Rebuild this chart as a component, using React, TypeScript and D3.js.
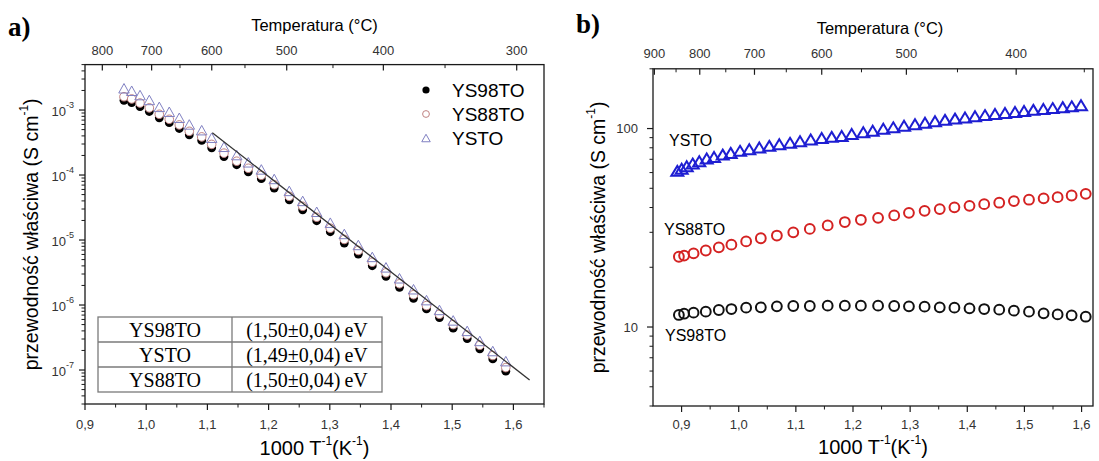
import React from "react";
import * as d3 from "d3";

// ---------- Panel a data (1000/T in K^-1, conductivity in S/cm) ----------
const invTA = [0.9637, 0.9763, 0.9899, 1.0051, 1.0214, 1.0377, 1.0541, 1.0704, 1.0907, 1.107, 1.1271, 1.1479, 1.1668, 1.1881, 1.2092, 1.2338, 1.2557, 1.2786, 1.3008, 1.3237, 1.3466, 1.3694, 1.3918, 1.4139, 1.4368, 1.458, 1.4792, 1.5016, 1.5245, 1.5451, 1.5663, 1.5876];
const ys98A = [1.41e-3, 1.30e-3, 1.13e-3, 9.5e-4, 7.6e-4, 6.4e-4, 5.2e-4, 4.15e-4, 3.41e-4, 2.62e-4, 1.92e-4, 1.44e-4, 1.12e-4, 8.8e-5, 6.3e-5, 4.16e-5, 2.92e-5, 1.98e-5, 1.34e-5, 8.97e-6, 6.08e-6, 4.02e-6, 2.76e-6, 1.87e-6, 1.27e-6, 8.7e-7, 6.4e-7, 4.4e-7, 3.05e-7, 2.12e-7, 1.48e-7, 9.6e-8];
const ys88A = [1.60e-3, 1.48e-3, 1.28e-3, 1.08e-3, 8.6e-4, 7.2e-4, 5.9e-4, 4.7e-4, 3.86e-4, 2.96e-4, 2.17e-4, 1.63e-4, 1.27e-4, 9.9e-5, 7.1e-5, 4.7e-5, 3.3e-5, 2.24e-5, 1.52e-5, 1.02e-5, 6.9e-6, 4.55e-6, 3.13e-6, 2.12e-6, 1.44e-6, 9.8e-7, 7.2e-7, 5.0e-7, 3.45e-7, 2.4e-7, 1.67e-7, 1.09e-7];
const ystoA = [2.16e-3, 1.98e-3, 1.70e-3, 1.43e-3, 1.12e-3, 9.4e-4, 7.6e-4, 6.0e-4, 4.9e-4, 3.75e-4, 2.72e-4, 2.03e-4, 1.57e-4, 1.22e-4, 8.7e-5, 5.7e-5, 4.0e-5, 2.72e-5, 1.85e-5, 1.24e-5, 8.4e-6, 5.5e-6, 3.8e-6, 2.58e-6, 1.75e-6, 1.19e-6, 8.4e-7, 5.8e-7, 4.0e-7, 2.8e-7, 1.96e-7, 1.37e-7];
const fitX = [1.108, 1.6265];
const fitY = [4.48e-4, 7.02e-8];
const legendA = ["YS98TO", "YS88TO", "YSTO"];
const tableSamples = ["YS98TO", "YSTO", "YS88TO"];
const tableEnergies = ["(1,50\u00b10,04)\u2009eV", "(1,49\u00b10,04)\u2009eV", "(1,50\u00b10,04)\u2009eV"];
const xTicksA = [0.9, 1.0, 1.1, 1.2, 1.3, 1.4, 1.5, 1.6];
const yTickExpA = [-7, -6, -5, -4, -3];
const topTempsA = [800, 700, 600, 500, 400, 300];
const topTempPosA = [0.9283, 1.0089, 1.1071, 1.2296, 1.3875, 1.6054];
const topMinorPosA = [0.968, 1.0552, 1.1614, 1.3052, 1.4883];

// ---------- Panel b data ----------
const invTB = [0.8953, 0.9044, 0.921, 0.9424, 0.9652, 0.9872, 1.013, 1.0387, 1.0668, 1.0955, 1.1244, 1.1557, 1.1857, 1.2138, 1.2439, 1.2721, 1.2979, 1.3253, 1.3518, 1.3775, 1.4039, 1.4296, 1.4559, 1.4816, 1.508, 1.5336, 1.5581, 1.5826, 1.6073];
const ys98B = [11.5, 11.67, 11.81, 11.95, 12.18, 12.32, 12.52, 12.56, 12.71, 12.76, 12.76, 12.81, 12.81, 12.81, 12.81, 12.76, 12.71, 12.66, 12.56, 12.52, 12.42, 12.32, 12.23, 12.09, 11.95, 11.72, 11.58, 11.45, 11.27];
const ys88B = [22.6, 22.9, 23.5, 24.3, 25.2, 26.0, 27.0, 28.0, 28.9, 30.0, 31.2, 32.5, 33.8, 34.7, 35.5, 36.5, 37.6, 38.5, 39.3, 40.1, 40.8, 41.6, 42.3, 43.1, 43.8, 44.5, 45.1, 46.0, 46.9];
const invTBTri = [0.8925, 0.9002, 0.909, 0.9195, 0.931, 0.944, 0.9568, 0.972, 0.986, 1.0023, 1.0185, 1.036, 1.0535, 1.071, 1.0898, 1.1073, 1.126, 1.1452, 1.1627, 1.1802, 1.1977, 1.218, 1.2345, 1.253, 1.2705, 1.2893, 1.3085, 1.326, 1.3435, 1.361, 1.3785, 1.396, 1.4135, 1.431, 1.4485, 1.466, 1.4835, 1.4993, 1.5156, 1.5331, 1.5495, 1.567, 1.5828, 1.599];
const ystoB = [61.2, 62.8, 64.6, 66.6, 68.4, 70.6, 71.9, 73.9, 75.4, 77.2, 78.7, 80.2, 81.8, 83.4, 84.7, 86.3, 88.0, 89.7, 90.8, 91.8, 93.8, 95.8, 97.6, 99.7, 101.4, 103.3, 105.2, 106.9, 108.8, 110.6, 112.2, 113.7, 115.3, 116.9, 118.3, 119.9, 121.3, 122.7, 124.2, 125.6, 126.8, 128.2, 129.4, 131.1];
const seriesLabelsB = ["YSTO", "YS88TO", "YS98TO"];
const xTicksB = [0.9, 1.0, 1.1, 1.2, 1.3, 1.4, 1.5, 1.6];
const yTicksB = [10, 100];
const topTempsB = [900, 800, 700, 600, 500, 400];
const topMinorTempsB = [850, 750, 650, 550, 450, 350];

const SANS = "'Liberation Sans', Arial, sans-serif";
const SERIF = "'Liberation Serif', 'Times New Roman', serif";
const AX = "#1a1a1a";

const fmtComma = (v: number) => v.toFixed(1).replace(".", ",");
const tri = (cx: number, cy: number, w: number, h: number) =>
  `M${cx},${cy - h / 2}L${cx + w / 2},${cy + h / 2}L${cx - w / 2},${cy + h / 2}Z`;

function minorLog(lo: number, hi: number) {
  const out: number[] = [];
  for (let e = Math.floor(Math.log10(lo)); e <= Math.ceil(Math.log10(hi)); e++) {
    for (let m = 2; m <= 9; m++) {
      const v = m * Math.pow(10, e);
      if (v >= lo && v <= hi) out.push(v);
    }
  }
  return out;
}

function PanelA() {
  const x = d3.scaleLinear().domain([0.9, 1.65]).range([85, 544]);
  const y = d3.scaleLog().domain([3e-8, 5e-3]).range([404, 64.6]);
  const [x0, x1] = x.range();
  const [yb, yt] = y.range();
  const line = d3.line<number>().x((d, i) => x(fitX[i])).y((d) => y(d));
  const minorX = d3.range(0.95, 1.66, 0.1);
  const cx = (x0 + x1) / 2;
  return (
    <g>
      <text x={8} y={27} fontFamily={SERIF} fontWeight="bold" fontSize={27} dominantBaseline="central">a)</text>
      {/* frame */}
      <rect x={x0} y={yt} width={x1 - x0} height={yb - yt} fill="none" stroke={AX} strokeWidth={1.3} />
      {/* bottom axis */}
      {xTicksA.map((t) => (
        <g key={"bx" + t}>
          <line x1={x(t)} x2={x(t)} y1={yb} y2={yb + 6} stroke={AX} strokeWidth={1.2} />
          <text x={x(t)} y={424} fontSize={13} fontFamily={SANS} textAnchor="middle" dominantBaseline="central" fill="#333">{fmtComma(t)}</text>
        </g>
      ))}
      {minorX.map((t) => (
        <line key={"bm" + t} x1={x(t)} x2={x(t)} y1={yb} y2={yb + 3.5} stroke={AX} strokeWidth={1} />
      ))}
      <text x={cx} y={448} fontSize={20} fontFamily={SANS} textAnchor="middle" dominantBaseline="central">
        1000 T<tspan dy={-7} fontSize={12}>-1</tspan><tspan dy={7}>(K</tspan><tspan dy={-7} fontSize={12}>-1</tspan><tspan dy={7}>)</tspan>
      </text>
      {/* left axis */}
      {yTickExpA.map((e) => {
        const v = Math.pow(10, e);
        return (
          <g key={"ly" + e}>
            <line x1={x0} x2={x0 - 6} y1={y(v)} y2={y(v)} stroke={AX} strokeWidth={1.2} />
            <text x={74} y={y(v) + 1} fontSize={13} fontFamily={SANS} textAnchor="end" dominantBaseline="central" fill="#333">
              10<tspan dy={-6} fontSize={9}>{String(e)}</tspan>
            </text>
          </g>
        );
      })}
      {minorLog(3e-8, 5e-3).map((v, i) => (
        <line key={"lm" + i} x1={x0} x2={x0 - 3.5} y1={y(v)} y2={y(v)} stroke={AX} strokeWidth={1} />
      ))}
      <text transform={`translate(31,${(yt + yb) / 2}) rotate(-90)`} fontSize={19.5} fontFamily={SANS} textAnchor="middle" dominantBaseline="central">
        przewodność właściwa (S cm<tspan dy={-7} fontSize={12}>-1</tspan><tspan dy={7}>)</tspan>
      </text>
      {/* top axis */}
      {topTempsA.map((t, i) => (
        <g key={"tt" + t}>
          <line x1={x(topTempPosA[i])} x2={x(topTempPosA[i])} y1={yt} y2={yt + 6} stroke={AX} strokeWidth={1.2} />
          <text x={x(topTempPosA[i])} y={50} fontSize={13} fontFamily={SANS} textAnchor="middle" dominantBaseline="central" fill="#333">{t}</text>
        </g>
      ))}
      {topMinorPosA.map((p, i) => (
        <line key={"tm" + i} x1={x(p)} x2={x(p)} y1={yt} y2={yt + 3.5} stroke={AX} strokeWidth={1} />
      ))}
      <text x={cx} y={25} fontSize={16.5} fontFamily={SANS} textAnchor="middle" dominantBaseline="central">Temperatura (°C)</text>
      {/* data */}
      {invTA.map((t, i) => (
        <circle key={"b" + i} cx={x(t)} cy={y(ys98A[i])} r={4.4} fill="#000" />
      ))}
      {invTA.map((t, i) => (
        <circle key={"r" + i} cx={x(t)} cy={y(ys88A[i])} r={4.3} fill="#fff" stroke="#c08282" strokeWidth={1} />
      ))}
      {invTA.map((t, i) => (
        <path key={"t" + i} d={tri(x(t), y(ystoA[i]), 10.5, 9.5)} fill="none" stroke="#8080c2" strokeWidth={1} />
      ))}
      <path d={line(fitY) || ""} fill="none" stroke="#333" strokeWidth={1.3} />
      {/* legend */}
      {legendA.map((s, i) => {
        const ly = 90 + i * 24;
        return (
          <g key={"lg" + s}>
            {i === 0 && <circle cx={426} cy={ly} r={3.6} fill="#000" />}
            {i === 1 && <circle cx={426} cy={ly} r={3.4} fill="#fff" stroke="#c08282" strokeWidth={1} />}
            {i === 2 && <path d={tri(426, ly, 8.5, 7.5)} fill="none" stroke="#8080c2" strokeWidth={1} />}
            <text x={452} y={ly} fontSize={19} fontFamily={SANS} dominantBaseline="central">{s}</text>
          </g>
        );
      })}
      {/* table */}
      <g stroke="#7a7a7a" strokeWidth={1.3} fill="none">
        <rect x={98} y={317} width={284} height={75} />
        <line x1={98} x2={382} y1={342} y2={342} />
        <line x1={98} x2={382} y1={367} y2={367} />
        <line x1={232} x2={232} y1={317} y2={392} />
      </g>
      {tableSamples.map((s, i) => (
        <g key={"tb" + i}>
          <text x={165} y={329.5 + i * 25} fontSize={20} fontFamily={SERIF} textAnchor="middle" dominantBaseline="central">{s}</text>
          <text x={307} y={329.5 + i * 25} fontSize={20} fontFamily={SERIF} textAnchor="middle" dominantBaseline="central">{tableEnergies[i]}</text>
        </g>
      ))}
    </g>
  );
}

function PanelB() {
  const x = d3.scaleLinear().domain([0.85, 1.62]).range([653, 1093]);
  const y = d3.scaleLog().domain([4, 200]).range([406, 68.8]);
  const [x0, x1] = x.range();
  const [yb, yt] = y.range();
  const minorX = d3.range(0.95, 1.61, 0.1);
  const invT = (tc: number) => 1000 / (tc + 273.15);
  const cx = (x0 + x1) / 2;
  return (
    <g>
      <text x={576} y={24} fontFamily={SERIF} fontWeight="bold" fontSize={27} dominantBaseline="central">b)</text>
      <rect x={x0} y={yt} width={x1 - x0} height={yb - yt} fill="none" stroke={AX} strokeWidth={1.3} />
      {xTicksB.map((t) => (
        <g key={"bx" + t}>
          <line x1={x(t)} x2={x(t)} y1={yb} y2={yb + 6} stroke={AX} strokeWidth={1.2} />
          <text x={x(t)} y={424} fontSize={13} fontFamily={SANS} textAnchor="middle" dominantBaseline="central" fill="#333">{fmtComma(t)}</text>
        </g>
      ))}
      {minorX.map((t) => (
        <line key={"bm" + t} x1={x(t)} x2={x(t)} y1={yb} y2={yb + 3.5} stroke={AX} strokeWidth={1} />
      ))}
      <text x={cx} y={447} fontSize={20} fontFamily={SANS} textAnchor="middle" dominantBaseline="central">
        1000 T<tspan dy={-7} fontSize={12}>-1</tspan><tspan dy={7}>(K</tspan><tspan dy={-7} fontSize={12}>-1</tspan><tspan dy={7}>)</tspan>
      </text>
      {yTicksB.map((v) => (
        <g key={"ly" + v}>
          <line x1={x0} x2={x0 - 6} y1={y(v)} y2={y(v)} stroke={AX} strokeWidth={1.2} />
          <text x={638} y={y(v)} fontSize={13} fontFamily={SANS} textAnchor="end" dominantBaseline="central" fill="#333">{v}</text>
        </g>
      ))}
      {minorLog(4, 200).map((v, i) => (
        <line key={"lm" + i} x1={x0} x2={x0 - 3.5} y1={y(v)} y2={y(v)} stroke={AX} strokeWidth={1} />
      ))}
      <text transform={`translate(598,${(yt + yb) / 2}) rotate(-90)`} fontSize={19.5} fontFamily={SANS} textAnchor="middle" dominantBaseline="central">
        przewodność właściwa (S cm<tspan dy={-7} fontSize={12}>-1</tspan><tspan dy={7}>)</tspan>
      </text>
      {topTempsB.map((t) => (
        <g key={"tt" + t}>
          <line x1={x(invT(t))} x2={x(invT(t))} y1={yt} y2={yt + 6} stroke={AX} strokeWidth={1.2} />
          <text x={x(invT(t))} y={53} fontSize={13} fontFamily={SANS} textAnchor="middle" dominantBaseline="central" fill="#333">{t}</text>
        </g>
      ))}
      {topMinorTempsB.map((t) => (
        <line key={"tm" + t} x1={x(invT(t))} x2={x(invT(t))} y1={yt} y2={yt + 3.5} stroke={AX} strokeWidth={1} />
      ))}
      <text x={880} y={28} fontSize={16.5} fontFamily={SANS} textAnchor="middle" dominantBaseline="central">Temperatura (°C)</text>
      {/* data */}
      {invTB.map((t, i) => (
        <circle key={"k" + i} cx={x(t)} cy={y(ys98B[i])} r={4.9} fill="none" stroke="#111" strokeWidth={2} />
      ))}
      {invTB.map((t, i) => (
        <circle key={"r" + i} cx={x(t)} cy={y(ys88B[i])} r={4.9} fill="none" stroke="#d42222" strokeWidth={2} />
      ))}
      {invTBTri.map((t, i) => (
        <path key={"t" + i} d={tri(x(t), y(ystoB[i]), 12, 10)} fill="none" stroke="#1e1ed2" strokeWidth={2} />
      ))}
      <text x={669} y={140} fontSize={16} fontFamily={SANS} dominantBaseline="central">{seriesLabelsB[0]}</text>
      <text x={664} y={229} fontSize={16} fontFamily={SANS} dominantBaseline="central">{seriesLabelsB[1]}</text>
      <text x={665} y={335} fontSize={16} fontFamily={SANS} dominantBaseline="central">{seriesLabelsB[2]}</text>
    </g>
  );
}

export default function App() {
  return (
    <svg width={1099} height={461} viewBox="0 0 1099 461" style={{ position: "absolute", left: 0, top: 0, background: "#fff" }}>
      <rect x={0} y={0} width={1099} height={461} fill="#fff" />
      <PanelA />
      <PanelB />
    </svg>
  );
}
